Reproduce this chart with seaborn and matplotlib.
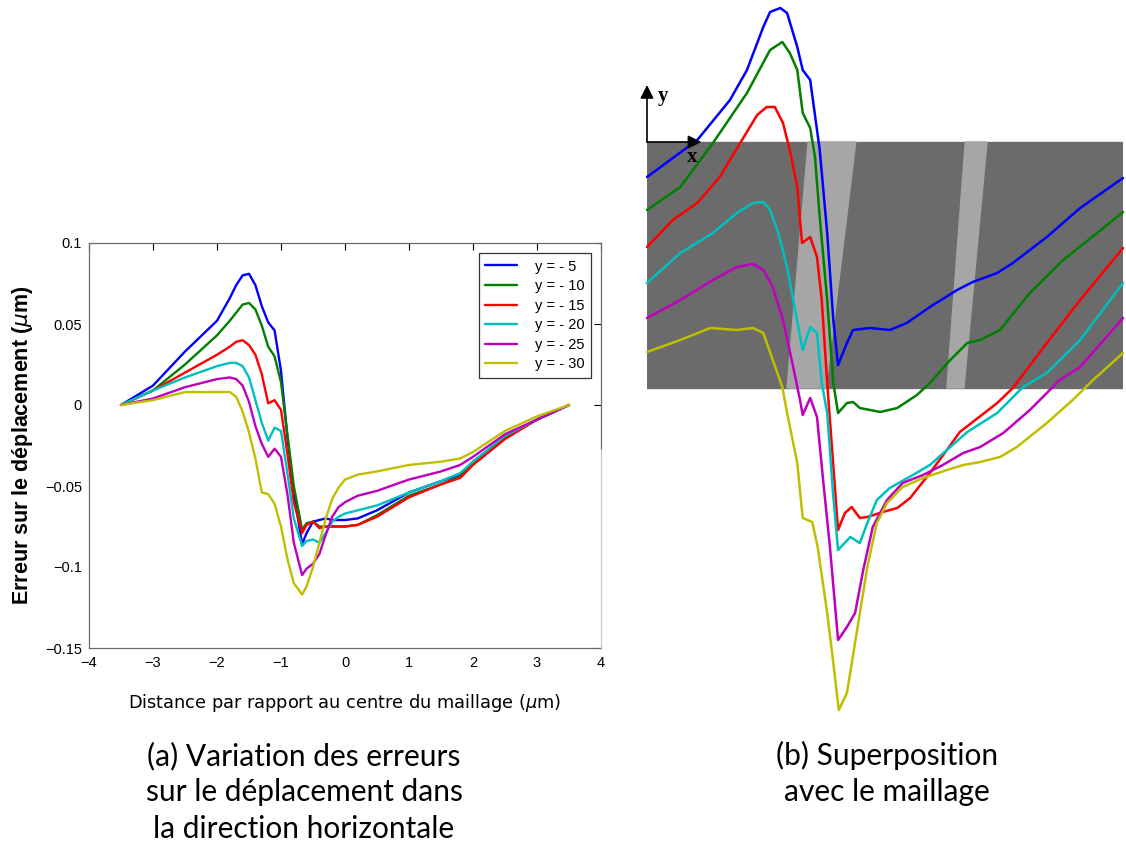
import numpy as np
import pandas as pd
import matplotlib
matplotlib.use("Agg")
import matplotlib.pyplot as plt
from matplotlib.patches import Rectangle, Polygon
from matplotlib.lines import Line2D
import seaborn as sns

# Valeurs (a) : erreur sur le deplacement (um)
x_a = [-3.5, -3.0, -2.5, -2.0, -1.8, -1.7, -1.6, -1.5, -1.4, -1.3, -1.2, -1.1, -1.0, -0.9, -0.8,
       -0.67, -0.6, -0.5, -0.4, -0.3, -0.2, -0.1, 0.0, 0.2, 0.5, 1.0, 1.5, 1.8, 2.0, 2.5, 3.0, 3.5]
err_y5 = [0, 0.012, 0.033, 0.052, 0.066, 0.074, 0.080, 0.081, 0.074, 0.061, 0.051, 0.046, 0.021, -0.020, -0.054,
          -0.086, -0.079, -0.072, -0.071, -0.070, -0.071, -0.071, -0.071, -0.070, -0.065, -0.054, -0.047, -0.043, -0.035, -0.020, -0.009, 0]
err_y10 = [0, 0.009, 0.025, 0.043, 0.052, 0.057, 0.062, 0.063, 0.059, 0.049, 0.036, 0.030, 0.014, -0.018, -0.050,
           -0.077, -0.073, -0.072, -0.075, -0.075, -0.075, -0.075, -0.075, -0.074, -0.068, -0.056, -0.049, -0.044, -0.036, -0.020, -0.009, 0]
err_y15 = [0, 0.009, 0.020, 0.031, 0.036, 0.039, 0.040, 0.037, 0.031, 0.019, 0.001, 0.003, -0.003, -0.030, -0.060,
           -0.079, -0.074, -0.072, -0.076, -0.075, -0.075, -0.075, -0.075, -0.074, -0.069, -0.057, -0.049, -0.045, -0.037, -0.021, -0.009, 0]
err_y20 = [0, 0.009, 0.017, 0.024, 0.026, 0.026, 0.024, 0.017, 0.003, -0.011, -0.022, -0.014, -0.016, -0.042, -0.070,
           -0.087, -0.084, -0.083, -0.085, -0.079, -0.072, -0.069, -0.067, -0.065, -0.062, -0.054, -0.047, -0.042, -0.035, -0.019, -0.009, 0]
err_y25 = [0, 0.004, 0.011, 0.016, 0.017, 0.016, 0.012, 0.002, -0.013, -0.024, -0.032, -0.027, -0.032, -0.055, -0.085,
           -0.105, -0.101, -0.098, -0.092, -0.080, -0.069, -0.063, -0.060, -0.056, -0.053, -0.046, -0.041, -0.037, -0.032, -0.018, -0.009, 0]
err_y30 = [0, 0.003, 0.008, 0.008, 0.008, 0.005, -0.004, -0.017, -0.033, -0.054, -0.055, -0.061, -0.075, -0.095, -0.110,
           -0.117, -0.112, -0.100, -0.085, -0.070, -0.058, -0.051, -0.046, -0.043, -0.041, -0.037, -0.035, -0.033, -0.029, -0.016, -0.007, 0]

labels = ["y = - 5", "y = - 10", "y = - 15", "y = - 20", "y = - 25", "y = - 30"]
colors = ["#0000ff", "#008000", "#ff0000", "#00bfbf", "#bf00bf", "#bfbf00"]

# Figure (b) : courbes superposees au maillage (position verticale, unites du dessin)
xb_y5 = [-3.5, -2.76, -2.28, -2.03, -1.79, -1.69, -1.54, -1.44, -1.29, -1.21, -1.10, -1.06, -0.96, -0.85, -0.76,
         -0.69, -0.56, -0.47, -0.22, 0.07, 0.32, 0.66, 1.06, 1.29, 1.65, 1.88, 2.38, 2.87, 3.5]
hb_y5 = [2.11, 2.48, 2.88, 3.18, 3.61, 3.76, 3.80, 3.75, 3.41, 3.18, 3.08, 2.88, 2.38, 1.55, 0.68,
         0.23, 0.45, 0.58, 0.60, 0.58, 0.65, 0.81, 0.98, 1.06, 1.15, 1.25, 1.51, 1.80, 2.10]
xb_y10 = [-3.5, -3.01, -2.53, -2.03, -1.69, -1.51, -1.40, -1.29, -1.21, -1.10, -1.03, -0.96, -0.85, -0.76, -0.69,
          -0.56, -0.47, -0.37, -0.07, 0.18, 0.47, 0.66, 0.96, 1.21, 1.40, 1.69, 2.13, 2.62, 3.12, 3.5]
hb_y10 = [1.78, 2.01, 2.45, 2.95, 3.38, 3.46, 3.35, 3.18, 2.75, 2.60, 2.31, 1.71, 0.88, 0.05, -0.25,
          -0.15, -0.14, -0.20, -0.24, -0.20, -0.07, 0.05, 0.28, 0.45, 0.48, 0.58, 0.95, 1.28, 1.55, 1.76]
xb_y15 = [-3.5, -3.12, -2.76, -2.43, -2.13, -1.88, -1.74, -1.62, -1.50, -1.40, -1.29, -1.22, -1.10, -1.00, -0.93,
          -0.85, -0.69, -0.59, -0.49, -0.37, -0.26, -0.03, 0.18, 0.37, 0.66, 0.91, 1.10, 1.29, 1.65, 1.88, 2.38, 2.87, 3.5]
hb_y15 = [1.41, 1.68, 1.85, 2.11, 2.45, 2.73, 2.81, 2.81, 2.65, 2.38, 2.01, 1.45, 1.51, 1.31, 0.88,
          0.05, -1.42, -1.25, -1.19, -1.30, -1.29, -1.24, -1.20, -1.10, -0.85, -0.62, -0.44, -0.34, -0.15, 0.00, 0.45, 0.88, 1.40]
xb_y20 = [-3.5, -3.01, -2.53, -2.18, -1.94, -1.79, -1.69, -1.57, -1.44, -1.35, -1.21, -1.10, -1.00, -0.93, -0.85,
          -0.76, -0.69, -0.51, -0.37, -0.26, -0.12, 0.07, 0.41, 0.66, 0.96, 1.21, 1.65, 2.03, 2.38, 2.87, 3.5]
hb_y20 = [1.05, 1.35, 1.55, 1.75, 1.85, 1.86, 1.78, 1.55, 1.21, 0.88, 0.38, 0.61, 0.55, 0.05, -0.25,
          -1.09, -1.62, -1.49, -1.55, -1.35, -1.12, -1.00, -0.87, -0.77, -0.59, -0.44, -0.25, 0.01, 0.15, 0.48, 1.05]
xb_y25 = [-3.5, -3.01, -2.53, -2.18, -1.94, -1.79, -1.65, -1.50, -1.35, -1.25, -1.21, -1.10, -1.00, -0.91, -0.81,
          -0.69, -0.56, -0.44, -0.32, -0.18, 0.03, 0.26, 0.56, 0.85, 1.15, 1.40, 1.74, 2.13, 2.57, 2.87, 3.5]
hb_y25 = [0.70, 0.88, 1.08, 1.21, 1.24, 1.18, 1.01, 0.68, 0.21, -0.12, -0.27, -0.10, -0.29, -0.92, -1.59,
          -2.52, -2.39, -2.25, -1.82, -1.39, -1.12, -0.95, -0.87, -0.77, -0.65, -0.59, -0.45, -0.22, 0.08, 0.21, 0.70]
xb_y30 = [-3.5, -3.01, -2.57, -2.18, -1.94, -1.79, -1.65, -1.51, -1.44, -1.29, -1.21, -1.07, -0.99, -0.85, -0.76,
          -0.68, -0.56, -0.41, -0.26, -0.12, 0.03, 0.26, 0.56, 0.91, 1.15, 1.40, 1.69, 1.94, 2.38, 2.76, 3.06, 3.5]
hb_y30 = [0.36, 0.48, 0.60, 0.58, 0.60, 0.55, 0.28, 0.01, -0.25, -0.75, -1.30, -1.34, -1.59, -2.25, -2.75,
          -3.22, -3.05, -2.42, -1.79, -1.35, -1.15, -0.99, -0.90, -0.82, -0.77, -0.74, -0.69, -0.59, -0.35, -0.12, 0.08, 0.35]

# Tableaux longs pour seaborn
series_a = [err_y5, err_y10, err_y15, err_y20, err_y25, err_y30]
df_a = pd.concat([pd.DataFrame({"x": x_a, "err": s, "serie": lab}) for s, lab in zip(series_a, labels)])
series_b = [(xb_y5, hb_y5), (xb_y10, hb_y10), (xb_y15, hb_y15), (xb_y20, hb_y20), (xb_y25, hb_y25), (xb_y30, hb_y30)]
df_b = pd.concat([pd.DataFrame({"x": xs, "h": hs, "serie": lab}) for (xs, hs), lab in zip(series_b, labels)])

sns.set_style("white")
plt.rcParams["font.family"] = ["Liberation Sans", "DejaVu Sans"]
plt.rcParams["axes.unicode_minus"] = True
plt.rcParams["text.color"] = "black"
plt.rcParams["axes.labelcolor"] = "black"

W, H = 1126, 844
fig = plt.figure(figsize=(W / 100, H / 100), dpi=100)

# ---- (a) ----
ax_a = fig.add_axes([89 / W, 1 - 648 / H, (601 - 89) / W, (648 - 243) / H])
sns.lineplot(data=df_a, x="x", y="err", hue="serie", palette=colors, estimator=None,
             linewidth=1.7, ax=ax_a)
ax_a.set_xlim(-4, 4)
ax_a.set_ylim(-0.15, 0.1)
ax_a.set_xticks(range(-4, 5))
ax_a.set_yticks([-0.15, -0.1, -0.05, 0, 0.05, 0.1])
ax_a.set_yticklabels(["\u22120.15", "\u22120.1", "\u22120.05", "0", "0.05", "0.1"])
ax_a.set_xticklabels([str(v).replace("-", "\u2212") for v in range(-4, 5)])
ax_a.tick_params(direction="in", length=5, width=0.8, top=True, right=True, labelsize=10.5,
                 colors="black", pad=5)
ax_a.tick_params(axis="x", pad=6)
for sp in ax_a.spines.values():
    sp.set_color("#6a6a6a")
    sp.set_linewidth(0.9)
ax_a.set_xlabel("")
ax_a.set_ylabel(r"Erreur sur le déplacement ($\mu$m)", fontsize=15.5, fontweight="bold", labelpad=7)
fig.text(345 / W, 1 - 703 / H, r"Distance par rapport au centre du maillage ($\mu$m)",
         ha="center", va="center", fontsize=12.8, family=["DejaVu Sans"], color="black")

leg = ax_a.get_legend()
handles = leg.legend_handles
ax_a.legend(handles, labels, loc="upper right", frameon=True, fancybox=False, edgecolor="black",
            fontsize=10.5, handlelength=2.2, handletextpad=1.2, borderpad=0.45, labelspacing=0.38,
            borderaxespad=0, bbox_to_anchor=(591 / W, 1 - 253 / H), bbox_transform=fig.transFigure)
ax_a.get_legend().get_frame().set_linewidth(0.9)
for t in ax_a.get_legend().get_texts():
    t.set_color("black")

# bas du cadre droit recouvert par l'image b dans l'original
fig.patches.append(Rectangle((590 / W, 1 - 646 / H), 16 / W, (646 - 450) / H,
                             transform=fig.transFigure, color="white", zorder=10))
fig.lines.append(Line2D([601 / W, 601 / W], [1 - 648 / H, 1 - 450 / H], transform=fig.transFigure,
                        color="#c8c8c8", lw=0.9, zorder=11))

# ---- (b) ----
ax_b = fig.add_axes([647 / W, 1 - 720 / H, (1123 - 647) / W, 720 / H])
ax_b.set_xlim(-3.5, 3.5)
ax_b.set_ylim(-3.32, 3.88)
ax_b.axis("off")
ax_b.add_patch(Rectangle((-3.5, 0), 7, 2.46, color="#6b6b6b", zorder=0))
ax_b.add_patch(Polygon([[-1.44, 0], [-1.13, 2.46], [-0.43, 2.46], [-0.87, 0]], closed=True,
                       color="#a6a6a6", zorder=0.5))
ax_b.add_patch(Polygon([[0.91, 0], [1.18, 2.46], [1.50, 2.46], [1.16, 0]], closed=True,
                       color="#a6a6a6", zorder=0.5))
sns.lineplot(data=df_b, x="x", y="h", hue="serie", palette=colors, estimator=None, sort=False,
             linewidth=1.8, legend=False, ax=ax_b)
for ln in ax_b.lines:
    ln.set_clip_on(False)
arrow_kw = dict(arrowstyle="-|>", color="black", lw=1.2, mutation_scale=20, shrinkA=0, shrinkB=0)
ax_b.annotate("", xy=(-3.5, 3.03), xytext=(-3.5, 2.46), arrowprops=arrow_kw)
ax_b.annotate("", xy=(-2.70, 2.46), xytext=(-3.5, 2.46), arrowprops=arrow_kw)
serif = ["Liberation Serif", "DejaVu Serif"]
ax_b.text(-3.27, 2.92, "y", fontsize=15, fontweight="bold", family=serif, ha="center", va="center")
ax_b.text(-2.84, 2.31, "x", fontsize=15, fontweight="bold", family=serif, ha="center", va="center")

# ---- legendes des sous-figures ----
cap_font = ["Lato", "DejaVu Sans"]
for i, line in enumerate(["(a) Variation des erreurs", "sur le déplacement dans", "la direction horizontale"]):
    fig.text(304 / W, 1 - (765 + 36.5 * i) / H, line, ha="center", va="baseline", fontsize=21.5,
             family=cap_font, color="black")
for i, line in enumerate(["(b) Superposition", "avec le maillage"]):
    fig.text(887 / W, 1 - (765 + 36.5 * i) / H, line, ha="center", va="baseline", fontsize=21.5,
             family=cap_font, color="black")

fig.savefig("out.png", dpi=100)
